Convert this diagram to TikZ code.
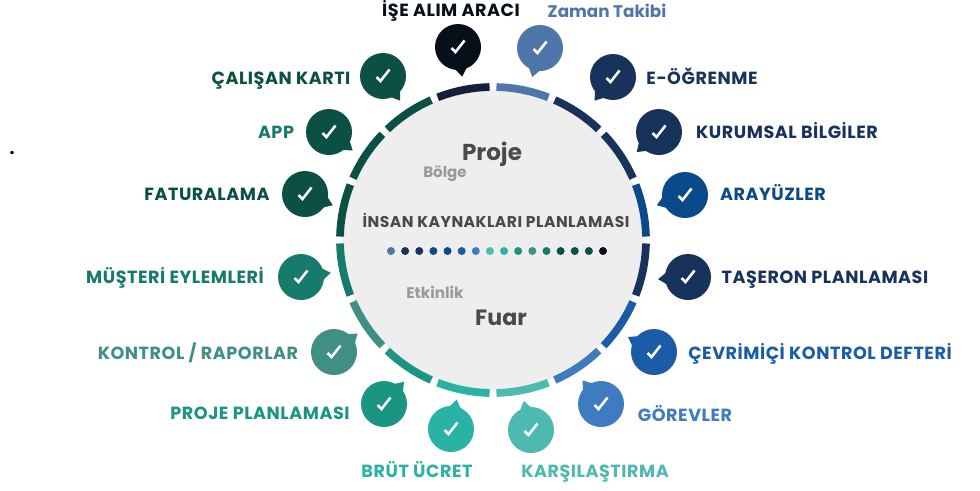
\documentclass[tikz,border=0pt]{standalone}
\usepackage{fontspec}
\setmainfont{Poppins}
\usepackage{tikz}
\usetikzlibrary{positioning}
\usetikzlibrary{backgrounds}
\usetikzlibrary{calc}

\definecolor{isealim}{HTML}{070F1A}
\definecolor{isering}{HTML}{141F3C}
\definecolor{zaman}{HTML}{4F76A8}
\definecolor{egitim}{HTML}{17335C}
\definecolor{arayuz}{HTML}{0A4A8A}
\definecolor{cevrim}{HTML}{1A5CA8}
\definecolor{gorev}{HTML}{3F7BC0}
\definecolor{karsi}{HTML}{4DB9B1}
\definecolor{brut}{HTML}{2AB3A5}
\definecolor{plan}{HTML}{1A9582}
\definecolor{kontrol}{HTML}{3F8F84}
\definecolor{musteri}{HTML}{167A6C}
\definecolor{kart}{HTML}{0C4F44}
\definecolor{hub}{HTML}{EEEEEE}
\definecolor{koyu}{HTML}{4A4A4A}
\definecolor{acik}{HTML}{999999}

\tikzset{
	bubble/.style = {circle, inner sep = 0pt, minimum size = 34.5pt},
	tick/.style = {draw = white, line width = 1.9pt},
	tag/.style = {font = \addfontfeature{LetterSpace=3}\bfseries\fontsize{13.2}{15}\selectfont, inner sep = 0pt, text height = 9.2pt, text depth = 0pt},
	seg/.style = {line width = 5.8pt},
	dot/.style = {circle, inner sep = 0pt, minimum size = 6pt},
}

% name, x, y, colour, tail direction
\newcommand{\speech}[5]{
	\node[bubble, fill = #4] at (#2,#3) (#1) {};
	\fill[#4] ($(#1)+(#5+20:21)$) -- ($(#1)+(#5:30)$) -- ($(#1)+(#5-20:21)$) -- cycle;
	\draw[tick] ($(#1)+(-6.5,1)$) -- ($(#1)+(-2.5,5)$) -- ($(#1)+(6.5,-6.5)$);
}

% colour, first angle
\newcommand{\ringseg}[2]{
	\draw[seg, #1] ($(hubc)+(#2:153)$) arc[start angle = #2, delta angle = 19.9, radius = 153];
}

\begin{document}
\begin{tikzpicture}[x = 0.75pt, y = -0.75pt]
	\useasboundingbox (0,0) rectangle (980,490);

	\coordinate (hubc) at (493,240);
	\node[circle, fill = hub, inner sep = 0pt, minimum size = 226pt] at (hubc) (hubdisc) {};

	\ringseg{zaman}{-88.7}
	\ringseg{egitim}{-66.2}
	\ringseg{egitim}{-43.7}
	\ringseg{arayuz}{-21.2}
	\ringseg{egitim}{1.3}
	\ringseg{cevrim}{23.8}
	\ringseg{gorev}{46.3}
	\ringseg{karsi}{68.8}
	\ringseg{brut}{91.3}
	\ringseg{plan}{113.8}
	\ringseg{kontrol}{136.3}
	\ringseg{musteri}{158.8}
	\ringseg{kart}{181.3}
	\ringseg{kart}{203.8}
	\ringseg{kart}{226.3}
	\ringseg{isering}{248.8}

	\speech{ise}{458}{47}{isealim}{82}
	\speech{zam}{540}{48}{zaman}{105}
	\speech{ogr}{613}{77}{egitim}{128}
	\speech{kur}{659}{132}{egitim}{138}
	\speech{ara}{685}{195}{arayuz}{160}
	\speech{tas}{688}{277}{egitim}{176}
	\speech{cev}{654}{352}{cevrim}{210}
	\speech{gor}{601}{404}{gorev}{232}
	\speech{kar}{531}{430}{karsi}{256}
	\speech{bru}{451}{429}{brut}{281}
	\speech{pla}{384}{404}{plan}{312}
	\speech{kon}{334}{352}{kontrol}{322}
	\speech{mus}{301}{277}{musteri}{352}
	\speech{fat}{305}{194}{kart}{22}
	\speech{app}{329}{132}{kart}{38}
	\speech{cal}{383}{76}{kart}{55}

	\node[tag, text = isealim] at (451,10) (lise) {İŞE ALIM ARACI};
	\node[tag, text = zaman, font = \bfseries\fontsize{12.6}{15}\selectfont] at (607,11) (lzam) {Zaman Takibi};
	\node[tag, text = egitim] at (702,78) (logr) {E-ÖĞRENME};
	\node[tag, text = egitim] at (787,132) (lkur) {KURUMSAL BİLGİLER};
	\node[tag, text = arayuz] at (773,194) (lara) {ARAYÜZLER};
	\node[tag, text = egitim] at (825,277) (ltas) {TAŞERON PLANLAMASI};
	\node[tag, text = cevrim] at (820,353) (lcev) {ÇEVRİMİÇİ KONTROL DEFTERİ};
	\node[tag, text = gorev] at (685,415) (lgor) {GÖREVLER};
	\node[tag, text = karsi] at (595,471) (lkar) {KARŞILAŞTIRMA};
	\node[tag, text = brut] at (417,471) (lbru) {BRÜT ÜCRET};
	\node[tag, text = plan] at (260,413) (lpla) {PROJE PLANLAMASI};
	\node[tag, text = kontrol] at (198,353) (lkon) {KONTROL / RAPORLAR};
	\node[tag, text = musteri] at (175,277) (lmus) {MÜŞTERİ EYLEMLERİ};
	\node[tag, text = kart] at (207,194) (lfat) {FATURALAMA};
	\node[tag, text = musteri] at (276,132) (lapp) {APP};
	\node[tag, text = kart] at (281,78) (lcal) {ÇALIŞAN KARTI};

	\node[font = \bfseries\fontsize{17.3}{19}\selectfont, text = koyu, inner sep = 0pt] at (492,154) (proje) {Proje};
	\node[font = \bfseries\fontsize{11.3}{13}\selectfont, text = acik, inner sep = 0pt] at (445,174) (bolge) {Bölge};
	\node[tag, text = koyu, font = \addfontfeature{LetterSpace=3}\bfseries\fontsize{11.7}{13}\selectfont, text height = 8.2pt] at (496,222) (baslik) {İNSAN KAYNAKLARI PLANLAMASI};
	\node[font = \bfseries\fontsize{11.5}{13}\selectfont, text = acik, inner sep = 0pt] at (435,292) (etkinlik) {Etkinlik};
	\node[font = \bfseries\fontsize{16.6}{18}\selectfont, text = koyu, inner sep = 0pt] at (501,318) (fuar) {Fuar};

	\node[dot, fill = zaman] at (391,251) (d1) {};
	\node[dot, fill = egitim, right = 4.2pt of d1] (d2) {};
	\node[dot, fill = egitim, right = 4.2pt of d2] (d3) {};
	\node[dot, fill = arayuz, right = 4.2pt of d3] (d4) {};
	\node[dot, fill = arayuz, right = 4.2pt of d4] (d5) {};
	\node[dot, fill = cevrim, right = 4.2pt of d5] (d6) {};
	\node[dot, fill = gorev, right = 4.2pt of d6] (d7) {};
	\node[dot, fill = karsi, right = 4.2pt of d7] (d8) {};
	\node[dot, fill = brut, right = 4.2pt of d8] (d9) {};
	\node[dot, fill = plan, right = 4.2pt of d9] (d10) {};
	\node[dot, fill = kontrol, right = 4.2pt of d10] (d11) {};
	\node[dot, fill = musteri, right = 4.2pt of d11] (d12) {};
	\node[dot, fill = kart, right = 4.2pt of d12] (d13) {};
	\node[dot, fill = kart, right = 4.2pt of d13] (d14) {};
	\node[dot, fill = kart, right = 4.2pt of d14] (d15) {};
	\node[dot, fill = isealim, right = 4.2pt of d15] (d16) {};

	\node[font = \bfseries\fontsize{13}{14}\selectfont, inner sep = 0pt] at (12,153) (nokta) {.};
\end{tikzpicture}
\end{document}
